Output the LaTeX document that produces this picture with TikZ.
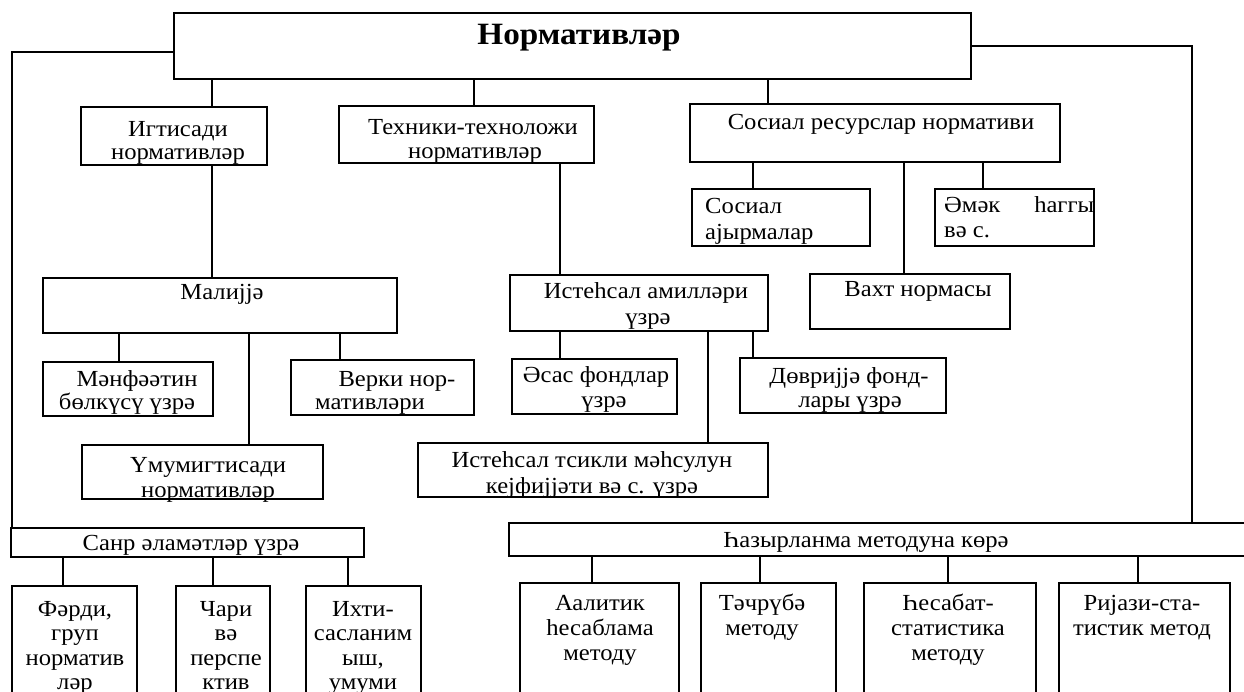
\documentclass[tikz,border=0pt]{standalone}
\usepackage{fontspec}
\setmainfont{Liberation Serif}[FakeStretch=1.07]
\newcommand\mybox[5]{\node[bx,minimum width={#4-#2},minimum height={#5-#3}] (#1) at ({(#2+#4)/2},{(#3+#5)/2}) {};}
\newcommand\mytext[4]{\node[tx] (#1) at (#2,#3) {#4};}
\newcommand\vcon[3]{\draw[ln] (#2.south -| #1,0) -- (#3.north -| #1,0);}
\begin{document}
\begin{tikzpicture}[x=1pt,y=-1pt,
  bx/.style={draw,line width=1.6pt,inner sep=0pt},
  ln/.style={line width=1.6pt},
  tx/.style={inner sep=0pt,anchor=base,font=\fontsize{23}{25}\selectfont},
  txw/.style={tx,anchor=base west},
  ttl/.style={inner sep=0pt,anchor=base,font=\fontsize{31}{34}\selectfont\bfseries}]
\useasboundingbox (0,0) rectangle (1244,692);
\clip (0,0) rectangle (1244,692);
% boxes
\mybox{top}{174}{13}{971}{79}
\mybox{igt}{81}{107}{267}{165}
\mybox{tex}{339}{106}{594}{163}
\mybox{sos}{690}{104}{1060}{162}
\mybox{soc}{692}{189}{870}{246}
\mybox{emek}{935}{189}{1094}{246}
\mybox{vaht}{810}{274}{1010}{329}
\mybox{mal}{43}{278}{397}{333}
\mybox{ist}{510}{275}{768}{331}
\mybox{menf}{43}{362}{213}{416}
\mybox{verki}{291}{360}{474}{415}
\mybox{asas}{512}{359}{677}{414}
\mybox{dovr}{740}{358}{946}{413}
\mybox{ums}{82}{445}{323}{499}
\mybox{tsik}{418}{443}{768}{497}
\mybox{sanr}{11}{528}{364}{557}
\mybox{hazir}{509}{523}{1252}{556}
\mybox{ferdi}{12}{586}{137}{720}
\mybox{chari}{176}{586}{270}{720}
\mybox{ihti}{306}{586}{421}{720}
\mybox{anal}{520}{583}{679}{720}
\mybox{tech}{701}{583}{836}{720}
\mybox{hesab}{864}{583}{1036}{720}
\mybox{riyazi}{1059}{583}{1230}{720}
% texts
\node[ttl] (ttop) at (579,45) {Нормативләр};
\mytext{igt1}{178}{137}{Игтисади}
\mytext{igt2}{178}{160}{нормативләр}
\mytext{tex1}{473}{135}{Техники-техноложи}
\mytext{tex2}{475}{159}{нормативләр}
\mytext{sos1}{881}{130}{Сосиал ресурслар нормативи}
\node[txw] (soc1) at (705,214) {Сосиал};
\node[txw] (soc2) at (705,240) {ајырмалар};
\node[txw] (emek1) at (944,213) {\hbox to 150pt{Әмәк\hfill һаггы}};
\node[txw] (emek2) at (944,238) {вә с.};
\mytext{vaht1}{918}{297}{Вахт нормасы}
\mytext{mal1}{222}{300}{Малијјә}
\mytext{ist1}{646}{299}{Истеһсал амилләри}
\mytext{ist2}{648}{325}{үзрә}
\mytext{menf1}{137}{386}{Мәнфәәтин}
\mytext{menf2}{127}{409}{бөлкүсү үзрә}
\mytext{verki1}{397}{386}{Верки нор-}
\mytext{verki2}{370}{409}{мативләри}
\mytext{asas1}{596}{382}{Әсас фондлар}
\mytext{asas2}{604}{407}{үзрә}
\mytext{dovr1}{849}{383}{Дөвријјә фонд-}
\mytext{dovr2}{850}{407}{лары үзрә}
\mytext{ums1}{208}{472}{Үмумигтисади}
\mytext{ums2}{208}{497}{нормативләр}
\mytext{tsik1}{592}{467}{Истеһсал тсикли мәһсулун}
\mytext{tsik2}{592}{493}{кејфијјәти вә с. үзрә}
\mytext{sanr1}{191}{550}{Санр әламәтләр үзрә}
\mytext{hazir1}{866}{547}{Һазырланма методуна көрә}
\mytext{ferdi1}{75}{616}{Фәрди,}
\mytext{ferdi2}{75}{640.5}{груп}
\mytext{ferdi3}{75}{665}{норматив}
\mytext{ferdi4}{75}{689}{ләр}
\mytext{chari1}{226}{616}{Чари}
\mytext{chari2}{226}{640.5}{вә}
\mytext{chari3}{226}{665}{перспе}
\mytext{chari4}{226}{689}{ктив}
\mytext{ihti1}{363}{616}{Ихти-}
\mytext{ihti2}{363}{640.5}{сасланим}
\mytext{ihti3}{363}{665}{ыш,}
\mytext{ihti4}{363}{689}{умуми}
\mytext{anal1}{600}{610}{Аалитик}
\mytext{anal2}{600}{635}{һесаблама}
\mytext{anal3}{600}{660}{методу}
\mytext{tech1}{762}{610}{Тәчрүбә}
\mytext{tech2}{762}{635}{методу}
\mytext{hesab1}{948}{610}{Һесабат-}
\mytext{hesab2}{948}{635}{статистика}
\mytext{hesab3}{948}{660}{методу}
\mytext{riy1}{1142}{610}{Ријази-ста-}
\mytext{riy2}{1142}{635}{тистик метод}
% connectors
\vcon{212}{top}{igt}
\vcon{474}{top}{tex}
\vcon{768}{top}{sos}
\draw[ln] (top.west |- 0,52) -| (sanr.north -| 12,0);
\draw[ln] (top.east |- 0,46) -| (hazir.north -| 1192,0);
\vcon{212}{igt}{mal}
\vcon{560}{tex}{ist}
\vcon{753}{sos}{soc}
\vcon{904}{sos}{vaht}
\vcon{983}{sos}{emek}
\vcon{119}{mal}{menf}
\vcon{249}{mal}{ums}
\vcon{340}{mal}{verki}
\vcon{560}{ist}{asas}
\vcon{708}{ist}{tsik}
\vcon{753}{ist}{dovr}
\vcon{63}{sanr}{ferdi}
\vcon{213}{sanr}{chari}
\vcon{348}{sanr}{ihti}
\vcon{592}{hazir}{anal}
\vcon{760}{hazir}{tech}
\vcon{948}{hazir}{hesab}
\vcon{1138}{hazir}{riyazi}
\end{tikzpicture}
\end{document}
